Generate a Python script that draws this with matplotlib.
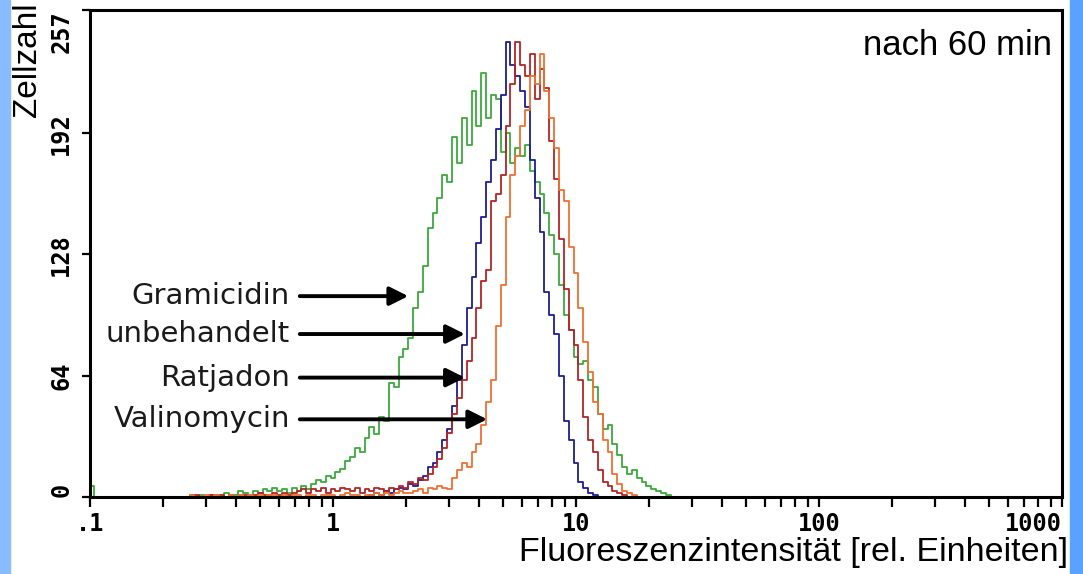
import matplotlib
matplotlib.use("Agg")
import matplotlib.pyplot as plt
from matplotlib.patches import Rectangle
from matplotlib.ticker import FixedLocator, NullFormatter

# Kanalgrenzen (log10 der Fluoreszenzintensitaet), jede Stufe beginnt am Wert
log_kanal = [-1.00, -0.985,
             -0.61, -0.59, -0.57, -0.55, -0.53, -0.51, -0.49, -0.47, -0.45, -0.43,
             -0.41, -0.39, -0.37, -0.35, -0.33, -0.31, -0.29, -0.27, -0.25, -0.23,
             -0.21, -0.19, -0.17, -0.15, -0.13, -0.11, -0.09, -0.07, -0.05, -0.03,
             -0.01, 0.01, 0.03, 0.05, 0.07, 0.09, 0.11, 0.13, 0.15, 0.17,
             0.19, 0.21, 0.23, 0.25, 0.27, 0.29, 0.31, 0.33, 0.35, 0.37,
             0.39, 0.41, 0.43, 0.45, 0.47, 0.49, 0.51, 0.53, 0.55, 0.57,
             0.59, 0.61, 0.63, 0.65, 0.67, 0.69, 0.71, 0.73, 0.75, 0.77,
             0.79, 0.81, 0.83, 0.85, 0.87, 0.89, 0.91, 0.93, 0.95, 0.97,
             0.99, 1.01, 1.03, 1.05, 1.07, 1.09, 1.11, 1.13, 1.15, 1.17,
             1.19, 1.21, 1.23, 1.25, 1.27, 1.29, 1.31, 1.33, 1.35, 1.37,
             1.39,
             3.00]

gramicidin = [6, 0,
              0, 1, 0, 1, 0, 1, 1, 0, 2, 1,
              1, 3, 2, 1, 3, 2, 4, 3, 5, 3,
              4, 2, 5, 3, 6, 4, 7, 9, 8, 11,
              10, 13, 15, 19, 21, 26, 24, 31, 37, 33,
              42, 40, 60, 58, 74, 78, 84, 100, 108, 122,
              142, 150, 158, 170, 166, 190, 176, 200, 186, 214,
              196, 224, 200, 212, 210, 182, 192, 176, 184, 180,
              186, 172, 166, 160, 150, 138, 128, 112, 96, 88,
              74, 70, 72, 62, 58, 44, 36, 38, 28, 22,
              16, 12, 14, 10, 8, 6, 4, 3, 2, 1,
              0,
              0]

unbehandelt = [0, 0,
               0, 0, 0, 0, 0, 0, 0, 0, 0, 0,
               0, 0, 0, 0, 0, 0, 0, 0, 0, 0,
               0, 0, 0, 0, 0, 0, 0, 0, 0, 0,
               0, 0, 0, 0, 0, 0, 0, 0, 1, 2,
               1, 3, 2, 4, 5, 4, 7, 6, 9, 11,
               16, 18, 24, 30, 36, 48, 62, 80, 100, 116,
               134, 148, 166, 178, 194, 212, 240, 228, 222, 214,
               206, 178, 158, 140, 108, 96, 86, 64, 40, 30,
               18, 8, 5, 2, 1, 0, 0, 0, 0, 0,
               0, 0, 0, 0, 0, 0, 0, 0, 0, 0,
               0,
               0]

ratjadon = [0, 0,
            0, 0, 1, 0, 0, 1, 0, 1, 0, 1,
            0, 1, 1, 0, 1, 2, 1, 1, 2, 1,
            2, 1, 2, 3, 4, 2, 4, 3, 5, 2,
            4, 3, 5, 4, 3, 5, 2, 4, 3, 5,
            4, 3, 5, 4, 6, 5, 8, 7, 10, 9,
            12, 16, 20, 26, 34, 44, 52, 62, 72, 84,
            100, 114, 120, 156, 160, 170, 196, 218, 240, 228,
            222, 234, 210, 226, 216, 188, 168, 136, 110, 88,
            80, 62, 42, 30, 24, 14, 8, 6, 3, 2,
            1, 0, 0, 0, 0, 0, 0, 0, 0, 0,
            0,
            0]

valinomycin = [0, 0,
               0, 1, 0, 0, 1, 0, 1, 0, 0, 1,
               0, 1, 0, 1, 0, 1, 0, 1, 1, 0,
               1, 0, 1, 1, 0, 1, 1, 0, 1, 1,
               1, 0, 1, 2, 1, 1, 0, 1, 1, 2,
               1, 2, 1, 2, 3, 2, 2, 3, 4, 2,
               5, 4, 6, 5, 4, 10, 14, 18, 16, 24,
               28, 38, 50, 62, 90, 112, 148, 170, 180, 196,
               204, 222, 218, 234, 214, 200, 184, 162, 156, 132,
               118, 100, 82, 66, 50, 44, 30, 24, 12, 7,
               3, 2, 1, 0, 0, 0, 0, 0, 0, 0,
               0,
               0]

intensitaet = [10 ** v for v in log_kanal]

serien = [
    ("Gramicidin", gramicidin, "#3aaa3a"),
    ("unbehandelt", unbehandelt, "#1c1c96"),
    ("Ratjadon", ratjadon, "#b42424"),
    ("Valinomycin", valinomycin, "#f07030"),
]

# Pfeile: Beschriftung -> Kurve (x-Ende, y)
pfeile = {
    "Gramicidin": (2.04, 106),
    "unbehandelt": (3.49, 86),
    "Ratjadon": (3.49, 63),
    "Valinomycin": (4.31, 41),
}

fig = plt.figure(figsize=(10.83, 5.74), dpi=100)
fig.patches.append(Rectangle((0, 0), 10 / 1083, 1, transform=fig.transFigure,
                             color="#88bbff", zorder=0))
fig.patches.append(Rectangle((1070 / 1083, 0), 13 / 1083, 1, transform=fig.transFigure,
                             color="#5aa2ff", zorder=0))

ax = fig.add_axes([90 / 1083, 1 - 497 / 574, 972 / 1083, 487 / 574])

for name, werte, farbe in serien:
    ax.step(intensitaet, werte, where="post", color=farbe, lw=1.3)

ax.set_xscale("log")
ax.set_xlim(0.1, 1000)
ax.set_ylim(0, 257)

ax.xaxis.set_major_locator(FixedLocator([0.1, 1, 10, 100, 1000]))
ax.set_xticklabels([".1", "1", "10", "100", "1000"])
minor = [m * d for d in [0.1, 1, 10, 100] for m in range(2, 10)]
ax.xaxis.set_minor_locator(FixedLocator(minor))
ax.xaxis.set_minor_formatter(NullFormatter())
ax.set_yticks([0, 64, 128, 192, 257])
ax.set_yticklabels(["0", "64", "128", "192", "257"], rotation=90, va="center")

ax.tick_params(axis="both", which="both", direction="out", length=7, width=1.6,
               pad=6, labelsize=17)
ax.tick_params(axis="x", which="major", pad=4)
ax.tick_params(axis="y", length=6)
for lab in ax.get_xticklabels() + ax.get_yticklabels():
    lab.set_family("DejaVu Sans Mono")
    lab.set_fontweight("bold")
ax.get_xticklabels()[-1].set_ha("right")
ylabs = ax.get_yticklabels()
ylabs[0].set_va("bottom")
ylabs[-1].set_va("top")

for s in ax.spines.values():
    s.set_linewidth(2.2)

fig.text(12 / 1083, 1 - 2 / 574, "Zellzahl", rotation=90, ha="left", va="top",
         fontsize=24, family="Liberation Sans")
fig.text(1068 / 1083, 1 - 552 / 574, "Fluoreszenzintensität [rel. Einheiten]",
         ha="right", va="center", fontsize=24.5, family="Liberation Sans")
ax.text(0.99, 0.928, "nach 60 min", transform=ax.transAxes, ha="right", va="center",
        fontsize=25, family="Liberation Sans")

for name, (xe, ye) in pfeile.items():
    ax.annotate("", xy=(xe, ye), xytext=(0.73, ye),
                arrowprops=dict(arrowstyle="-|>", lw=2.8, color="black",
                                mutation_scale=28, shrinkA=0, shrinkB=0))
    ax.text(0.665, ye, name, ha="right", va="center", fontsize=21,
            family="DejaVu Sans", color="#1a1a1a")

fig.savefig("out.png", dpi=100)
